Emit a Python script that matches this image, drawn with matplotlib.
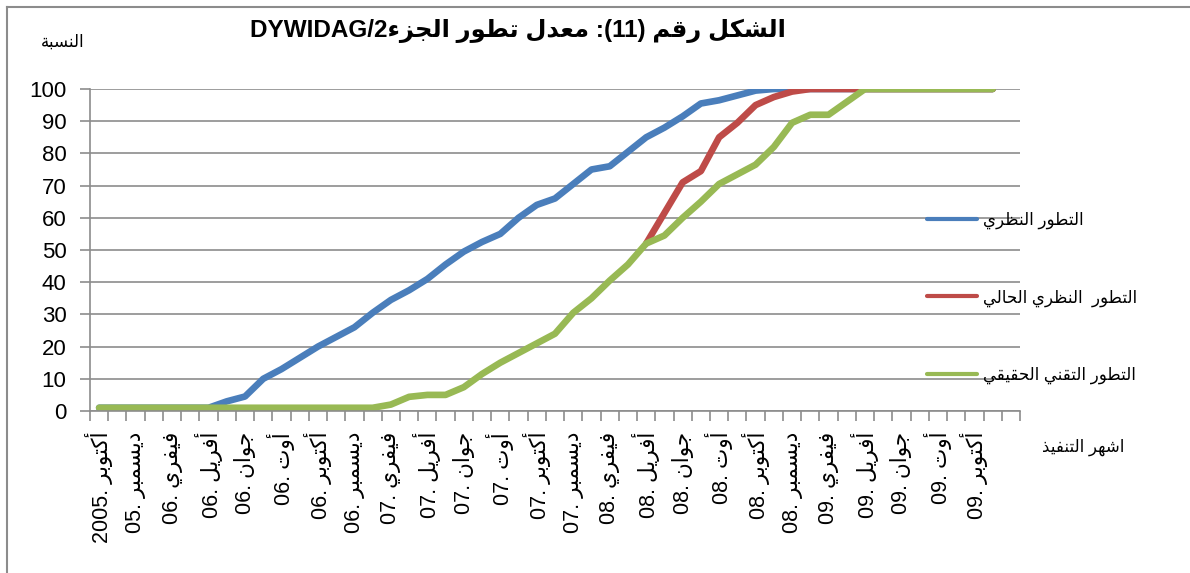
import re
import matplotlib
matplotlib.use("Agg")
import matplotlib.pyplot as plt
from matplotlib.lines import Line2D

plt.rcParams['font.family'] = ['Liberation Sans', 'DejaVu Sans']

# Arabic contextual forms (isolated, final, initial, medial)
FORMS = {
    'ء': ('\uFE80', None, None, None),
    'أ': ('\uFE83', '\uFE84', None, None),
    'ا': ('\uFE8D', '\uFE8E', None, None),
    'ب': ('\uFE8F', '\uFE90', '\uFE91', '\uFE92'),
    'ة': ('\uFE93', '\uFE94', None, None),
    'ت': ('\uFE95', '\uFE96', '\uFE97', '\uFE98'),
    'ج': ('\uFE9D', '\uFE9E', '\uFE9F', '\uFEA0'),
    'ح': ('\uFEA1', '\uFEA2', '\uFEA3', '\uFEA4'),
    'د': ('\uFEA9', '\uFEAA', None, None),
    'ذ': ('\uFEAB', '\uFEAC', None, None),
    'ر': ('\uFEAD', '\uFEAE', None, None),
    'ز': ('\uFEAF', '\uFEB0', None, None),
    'س': ('\uFEB1', '\uFEB2', '\uFEB3', '\uFEB4'),
    'ش': ('\uFEB5', '\uFEB6', '\uFEB7', '\uFEB8'),
    'ط': ('\uFEC1', '\uFEC2', '\uFEC3', '\uFEC4'),
    'ظ': ('\uFEC5', '\uFEC6', '\uFEC7', '\uFEC8'),
    'ع': ('\uFEC9', '\uFECA', '\uFECB', '\uFECC'),
    'ف': ('\uFED1', '\uFED2', '\uFED3', '\uFED4'),
    'ق': ('\uFED5', '\uFED6', '\uFED7', '\uFED8'),
    'ك': ('\uFED9', '\uFEDA', '\uFEDB', '\uFEDC'),
    'ل': ('\uFEDD', '\uFEDE', '\uFEDF', '\uFEE0'),
    'م': ('\uFEE1', '\uFEE2', '\uFEE3', '\uFEE4'),
    'ن': ('\uFEE5', '\uFEE6', '\uFEE7', '\uFEE8'),
    'ه': ('\uFEE9', '\uFEEA', '\uFEEB', '\uFEEC'),
    'و': ('\uFEED', '\uFEEE', None, None),
    'ي': ('\uFEF1', '\uFEF2', '\uFEF3', '\uFEF4'),
}
MIRROR = {'(': ')', ')': '('}


def shape(s):
    out = []
    for i, c in enumerate(s):
        if c not in FORMS:
            out.append(c)
            continue
        prev = s[i - 1] if i > 0 else ''
        nxt = s[i + 1] if i + 1 < len(s) else ''
        jp = prev in FORMS and FORMS[prev][2] is not None
        jn = FORMS[c][2] is not None and nxt in FORMS
        iso, fin, ini, med = FORMS[c]
        if jp and jn:
            out.append(med)
        elif jp:
            out.append(fin or iso)
        elif jn:
            out.append(ini)
        else:
            out.append(iso)
    return ''.join(out)


def rtl(s):
    # shape then put in visual order for a right-to-left line
    s = shape(s)
    runs = re.findall(r'[A-Za-z0-9][A-Za-z0-9/.]*|[^A-Za-z0-9]+', s)
    out = []
    for r in reversed(runs):
        if re.match(r'[A-Za-z0-9]', r):
            out.append(r)
        else:
            out.append(''.join(MIRROR.get(ch, ch) for ch in reversed(r)))
    return ''.join(out)


# data: monthly, Oct 2005 .. Nov 2009
theoretical = [1, 1, 1, 1, 1, 1, 1, 3, 4.5, 10, 13, 16.5, 20, 23, 26, 30.5,
               34.5, 37.5, 41, 45.5, 49.5, 52.5, 55, 60, 64, 66, 70.5, 75, 76,
               80.5, 85, 88, 91.5, 95.5, 96.5, 98, 99.5, 100, 100, 100, 100,
               100, 100, 100, 100, 100, 100, 100, 100, 100]
current = [None] * 30 + [52, 61.5, 71, 74.5, 85, 89.5, 95, 97.5, 99.2, 100,
                         100, 100, 100, 100, 100, 100, 100, 100, 100, 100]
actual = [1, 1, 1, 1, 1, 1, 1, 1, 1, 1, 1, 1, 1, 1, 1, 1, 2, 4.4, 5, 5, 7.4,
          11.5, 15, 18, 21, 24, 30.5, 35, 40.5, 45.5, 52, 54.5, 60, 65, 70.5,
          73.5, 76.5, 82, 89.5, 92, 92, 96, 100, 100, 100, 100, 100, 100, 100,
          100]
n_categories = 51
tick_labels = ['أكتوبر 2005.', 'ديسمبر 05.', 'فيفري 06.', 'أفريل 06.', 'جوان 06.',
               'أوت 06.', 'أكتوبر 06.', 'ديسمبر 06.', 'فيفري 07.', 'أفريل 07.',
               'جوان 07.', 'أوت 07.', 'أكتوبر 07.', 'ديسمبر 07.', 'فيفري 08.',
               'أفريل 08.', 'جوان 08.', 'أوت 08.', 'أكتوبر 08.', 'ديسمبر 08.',
               'فيفري 09.', 'أفريل 09.', 'جوان 09.', 'أوت 09.', 'أكتوبر 09.']
series_names = ['التطور النظري', 'التطور  النظري الحالي', 'التطور التقني الحقيقي']
colors = ['#4A7EBB', '#BE4B48', '#98B954']

W, H = 1190, 573
fig = plt.figure(figsize=(W / 100, H / 100), dpi=100)
ax = fig.add_axes([90 / W, 162 / H, 930 / W, 322 / H])

x = list(range(len(theoretical)))
for vals, name, col in zip([theoretical, current, actual], series_names, colors):
    xs = [i for i, v in zip(x, vals) if v is not None]
    ys = [v for v in vals if v is not None]
    ax.plot(xs, ys, color=col, lw=4.8, label=rtl(name), solid_capstyle='round',
            solid_joinstyle='round')

grid_col = '#8C8C8C'
ax.set_xlim(-0.5, n_categories - 0.5)
ax.set_ylim(0, 100)
ax.set_yticks(range(0, 101, 10))
ax.yaxis.grid(True, color=grid_col, lw=1.2)
ax.set_axisbelow(True)
for s in ['top', 'right']:
    ax.spines[s].set_visible(False)
for s in ['left', 'bottom']:
    ax.spines[s].set_color(grid_col)
    ax.spines[s].set_linewidth(1.2)

ax.set_xticks([i - 0.5 for i in range(n_categories + 1)])
ax.set_xticklabels([])
ax.set_xticks(list(range(0, 2 * len(tick_labels), 2)), minor=True)
ax.set_xticklabels([rtl(t) for t in tick_labels], minor=True, rotation=90,
                   fontsize=15.5)
ax.tick_params(axis='x', which='major', length=7, color=grid_col, width=1.2)
ax.tick_params(axis='x', which='minor', length=0, pad=15)
ax.tick_params(axis='y', length=7, color=grid_col, width=1.2, labelsize=16, pad=10)

fig.text(518 / W, 1 - 31 / H, rtl('الشكل رقم (11): معدل تطور الجزءDYWIDAG/2'),
         ha='center', va='center', fontsize=17.5, fontweight='bold')
fig.text(63 / W, 1 - 42 / H, rtl('النسبة'), ha='center', va='center', fontsize=12)
fig.text(1083 / W, 1 - 447 / H, rtl('اشهر التنفيذ'), ha='center', va='center',
         fontsize=12)

ax.legend(loc='upper left', bbox_to_anchor=(912 / W, 1 - 197 / H),
          bbox_transform=fig.transFigure, frameon=False, fontsize=12,
          handlelength=3.0, handletextpad=0.35, labelspacing=3.6)
for ln in ax.get_legend().get_lines():
    ln.set_linewidth(3)

border = dict(transform=fig.transFigure, color=grid_col, lw=1.5)
fig.add_artist(Line2D([7 / W, 7 / W], [0, 1 - 7 / H], **border))
fig.add_artist(Line2D([7 / W, 1], [1 - 7 / H, 1 - 7 / H], **border))

fig.savefig('out.png', dpi=100)
